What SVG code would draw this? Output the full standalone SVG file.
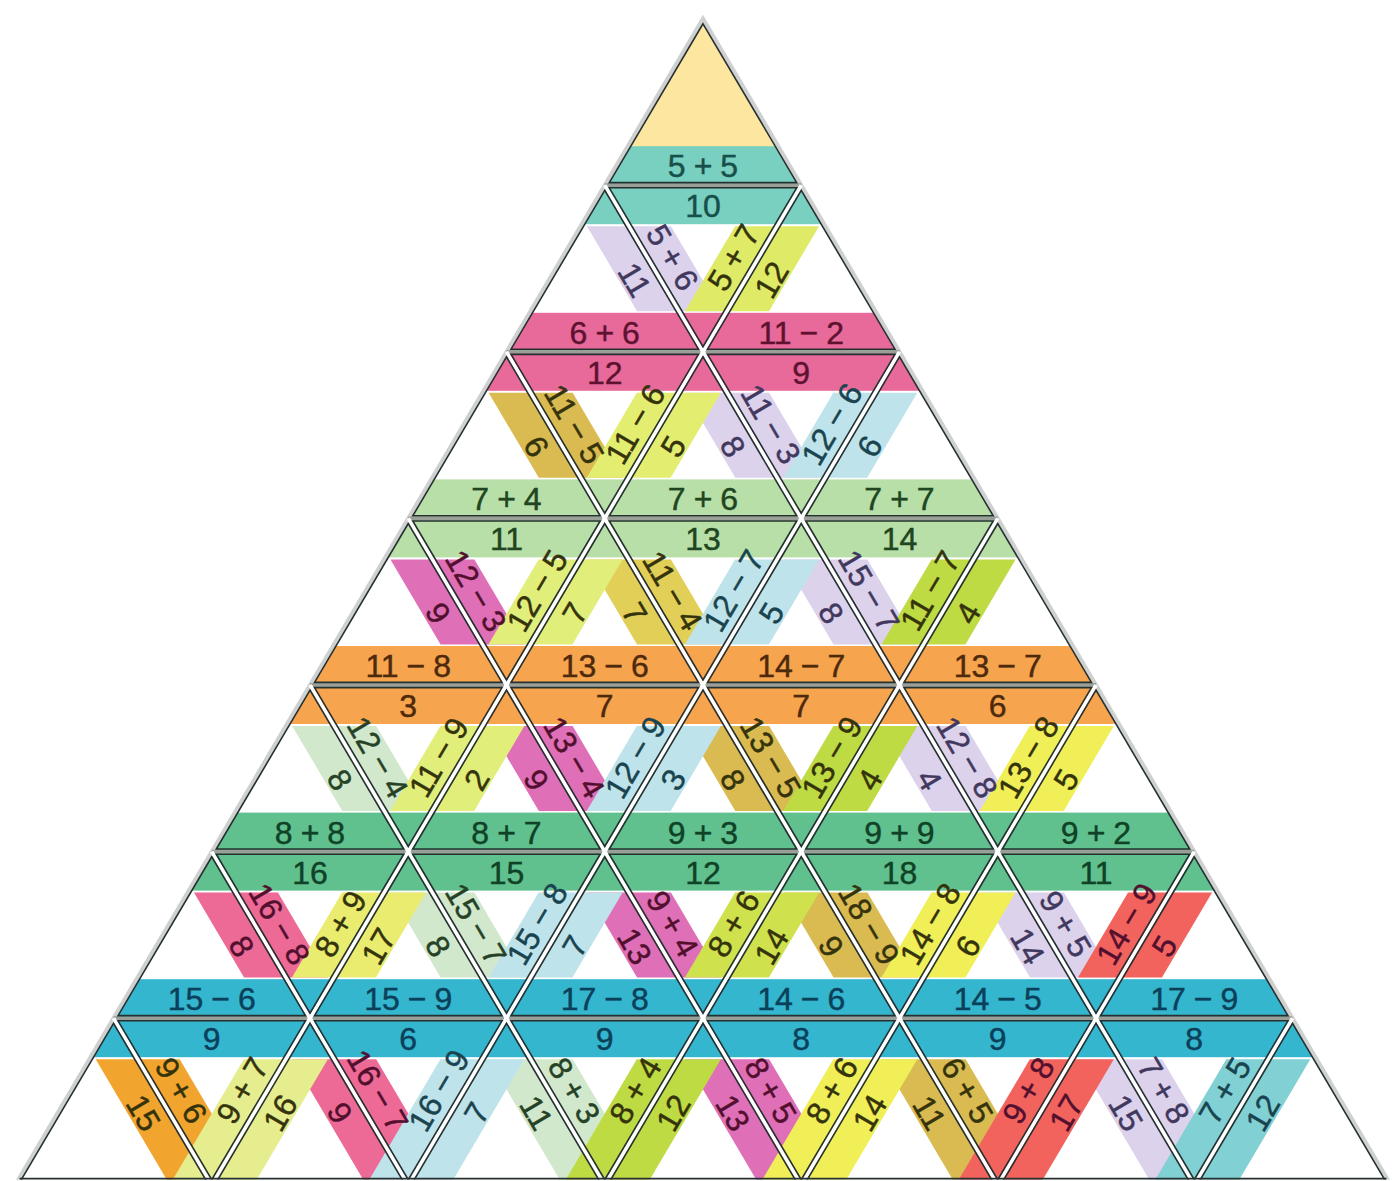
<svg xmlns="http://www.w3.org/2000/svg" width="1392" height="1181" viewBox="0 0 1392 1181">
<style>
.o{fill:none;stroke:#263030;stroke-width:1.6}
.gd{stroke:#ffffff;stroke-width:3.8}
.gh{stroke:#9a9f98;stroke-width:3.8}
text{font-family:"Liberation Sans",Arial,sans-serif;font-size:32px;text-anchor:middle;stroke-width:0.45px}
.lav{fill:#dcd2ec}.olv{fill:#d9bb52}.mus{fill:#e2cf58}.mag{fill:#df70b8}.pgr{fill:#d2e8cc}.ros{fill:#ed6a97}.org{fill:#f2a52e}
.ylg{fill:#dfea66}.yel{fill:#e3ed70}.lbl{fill:#bfe3ea}.ylm{fill:#e2ee7a}.lim{fill:#bedb44}.yel2{fill:#f0ef58}.yel3{fill:#e9ec6e}
.lim2{fill:#cfe24e}.cor{fill:#f2635d}.pyg{fill:#e5ed8e}.tea{fill:#80d0d4}
.h1{fill:#79cfc0}.h2{fill:#e86a9b}.h3{fill:#b8dfa8}.h4{fill:#f7a44e}.h5{fill:#60c18f}.h6{fill:#35b6cf}
.k1{fill:#174f4a;stroke:#174f4a}.k2{fill:#5e1230;stroke:#5e1230}.k3{fill:#1f4620;stroke:#1f4620}.k4{fill:#4e2a0c;stroke:#4e2a0c}.k5{fill:#0f4226;stroke:#0f4226}.k6{fill:#0b405a;stroke:#0b405a}
.tl{fill:#41385e;stroke:#41385e}.ty{fill:#34330c;stroke:#34330c}.tb{fill:#19444f;stroke:#19444f}.tp{fill:#52102e;stroke:#52102e}.tg{fill:#264226;stroke:#264226}
</style>
<defs>
<clipPath id="clip"><polygon points="703,23.72 15.2,1190 1390.8,1190"/></clipPath>
<polygon id="up" points="0,5.12 -93.7,164 93.7,164"/>
<polygon id="dn" points="-93.7,2.6 93.7,2.6 0,161.48"/>
<polygon id="bs" points="-17.82,41 66.18,41 116.31,126 32.31,126"/>
<polygon id="bs6" points="-17.82,41 66.18,41 142.26,170 58.26,170"/>
<polygon id="fs" points="17.82,41 -66.18,41 -116.31,126 -32.31,126"/>
<polygon id="fs6" points="17.82,41 -66.18,41 -142.26,170 -58.26,170"/>
</defs>
<rect width="1392" height="1181" fill="#ffffff"/>
<polygon points="703,18.6 15.25,1184.8 1390.75,1184.8" fill="#ffffff" stroke="#cfd0d0" stroke-width="4"/>
<g id="bands" clip-path="url(#clip)">
<polygon points="703,18.6 604.75,185.2 801.25,185.2" fill="#fde6a0"/>
<use href="#bs" class="lav" x="604.75" y="185.2"/>
<use href="#bs" class="olv" x="506.5" y="351.8"/>
<use href="#bs" class="lav" x="703" y="351.8"/>
<use href="#bs" class="mag" x="408.25" y="518.4"/>
<use href="#bs" class="mus" x="604.75" y="518.4"/>
<use href="#bs" class="lav" x="801.25" y="518.4"/>
<use href="#bs" class="pgr" x="310" y="685"/>
<use href="#bs" class="mag" x="506.5" y="685"/>
<use href="#bs" class="olv" x="703" y="685"/>
<use href="#bs" class="lav" x="899.5" y="685"/>
<use href="#bs" class="ros" x="211.75" y="851.6"/>
<use href="#bs" class="pgr" x="408.25" y="851.6"/>
<use href="#bs" class="mag" x="604.75" y="851.6"/>
<use href="#bs" class="olv" x="801.25" y="851.6"/>
<use href="#bs" class="lav" x="997.75" y="851.6"/>
<use href="#bs6" class="org" x="113.5" y="1018.2"/>
<use href="#bs6" class="ros" x="310" y="1018.2"/>
<use href="#bs6" class="pgr" x="506.5" y="1018.2"/>
<use href="#bs6" class="mag" x="703" y="1018.2"/>
<use href="#bs6" class="olv" x="899.5" y="1018.2"/>
<use href="#bs6" class="lav" x="1096" y="1018.2"/>
<use href="#fs" class="ylg" x="801.25" y="185.2"/>
<use href="#fs" class="yel" x="703" y="351.8"/>
<use href="#fs" class="lbl" x="899.5" y="351.8"/>
<use href="#fs" class="ylm" x="604.75" y="518.4"/>
<use href="#fs" class="lbl" x="801.25" y="518.4"/>
<use href="#fs" class="lim" x="997.75" y="518.4"/>
<use href="#fs" class="ylm" x="506.5" y="685"/>
<use href="#fs" class="lbl" x="703" y="685"/>
<use href="#fs" class="lim" x="899.5" y="685"/>
<use href="#fs" class="yel2" x="1096" y="685"/>
<use href="#fs" class="yel3" x="408.25" y="851.6"/>
<use href="#fs" class="lbl" x="604.75" y="851.6"/>
<use href="#fs" class="lim2" x="801.25" y="851.6"/>
<use href="#fs" class="yel2" x="997.75" y="851.6"/>
<use href="#fs" class="cor" x="1194.25" y="851.6"/>
<use href="#fs6" class="pyg" x="310" y="1018.2"/>
<use href="#fs6" class="lbl" x="506.5" y="1018.2"/>
<use href="#fs6" class="lim" x="703" y="1018.2"/>
<use href="#fs6" class="yel2" x="899.5" y="1018.2"/>
<use href="#fs6" class="cor" x="1096" y="1018.2"/>
<use href="#fs6" class="tea" x="1292.5" y="1018.2"/>
<rect class="h1" x="0" y="146.2" width="1392" height="78"/>
<rect class="h2" x="0" y="312.8" width="1392" height="78"/>
<rect class="h3" x="0" y="479.4" width="1392" height="78"/>
<rect class="h4" x="0" y="646" width="1392" height="78"/>
<rect class="h5" x="0" y="812.6" width="1392" height="78"/>
<rect class="h6" x="0" y="979.2" width="1392" height="78"/>
</g>
<g id="connectors">
<line class="gh" x1="604.75" y1="185.2" x2="801.25" y2="185.2"/>
<line class="gh" x1="506.5" y1="351.8" x2="899.5" y2="351.8"/>
<line class="gh" x1="408.25" y1="518.4" x2="997.75" y2="518.4"/>
<line class="gh" x1="310" y1="685" x2="1096" y2="685"/>
<line class="gh" x1="211.75" y1="851.6" x2="1194.25" y2="851.6"/>
<line class="gh" x1="113.5" y1="1018.2" x2="1292.5" y2="1018.2"/>
<line class="gd" x1="604.75" y1="185.2" x2="1194.25" y2="1184.8"/>
<line class="gd" x1="506.5" y1="351.8" x2="997.75" y2="1184.8"/>
<line class="gd" x1="408.25" y1="518.4" x2="801.25" y2="1184.8"/>
<line class="gd" x1="310" y1="685" x2="604.75" y2="1184.8"/>
<line class="gd" x1="211.75" y1="851.6" x2="408.25" y2="1184.8"/>
<line class="gd" x1="113.5" y1="1018.2" x2="211.75" y2="1184.8"/>
<line class="gd" x1="801.25" y1="185.2" x2="211.75" y2="1184.8"/>
<line class="gd" x1="899.5" y1="351.8" x2="408.25" y2="1184.8"/>
<line class="gd" x1="997.75" y1="518.4" x2="604.75" y2="1184.8"/>
<line class="gd" x1="1096" y1="685" x2="801.25" y2="1184.8"/>
<line class="gd" x1="1194.25" y1="851.6" x2="997.75" y2="1184.8"/>
<line class="gd" x1="1292.5" y1="1018.2" x2="1194.25" y2="1184.8"/>
</g>
<g id="p0-0"><use href="#up" class="o" x="703" y="18.6"/><text class="k1" x="703" y="177.2">5<tspan dx="8">+</tspan><tspan dx="8">5</tspan></text></g>
<g id="p1-u0"><use href="#up" class="o" x="604.75" y="185.2"/><text class="k2" x="604.75" y="343.8">6<tspan dx="8">+</tspan><tspan dx="8">6</tspan></text><text class="tl" transform="translate(634.91,279.68) rotate(59.47)" y="11.5">11</text></g>
<g id="p1-d0"><use href="#dn" class="o" x="703" y="185.2"/><text class="k1" x="703" y="217.2">10</text><text class="tl" transform="translate(672.84,257.32) rotate(59.47)" y="11.5">5<tspan dx="8">+</tspan><tspan dx="8">6</tspan></text><text class="ty" transform="translate(733.16,257.32) rotate(-59.47)" y="11.5">5<tspan dx="8">+</tspan><tspan dx="8">7</tspan></text></g>
<g id="p1-u1"><use href="#up" class="o" x="801.25" y="185.2"/><text class="k2" x="801.25" y="343.8">11<tspan dx="8">−</tspan><tspan dx="8">2</tspan></text><text class="ty" transform="translate(771.09,279.68) rotate(-59.47)" y="11.5">12</text></g>
<g id="p2-u0"><use href="#up" class="o" x="506.5" y="351.8"/><text class="k3" x="506.5" y="510.4">7<tspan dx="8">+</tspan><tspan dx="8">4</tspan></text><text class="ty" transform="translate(536.66,446.28) rotate(59.47)" y="11.5">6</text></g>
<g id="p2-d0"><use href="#dn" class="o" x="604.75" y="351.8"/><text class="k2" x="604.75" y="383.8">12</text><text class="ty" transform="translate(574.59,423.92) rotate(59.47)" y="11.5">11<tspan dx="8">−</tspan><tspan dx="8">5</tspan></text><text class="ty" transform="translate(634.91,423.92) rotate(-59.47)" y="11.5">11<tspan dx="8">−</tspan><tspan dx="8">6</tspan></text></g>
<g id="p2-u1"><use href="#up" class="o" x="703" y="351.8"/><text class="k3" x="703" y="510.4">7<tspan dx="8">+</tspan><tspan dx="8">6</tspan></text><text class="ty" transform="translate(672.84,446.28) rotate(-59.47)" y="11.5">5</text><text class="tl" transform="translate(733.16,446.28) rotate(59.47)" y="11.5">8</text></g>
<g id="p2-d1"><use href="#dn" class="o" x="801.25" y="351.8"/><text class="k2" x="801.25" y="383.8">9</text><text class="tl" transform="translate(771.09,423.92) rotate(59.47)" y="11.5">11<tspan dx="8">−</tspan><tspan dx="8">3</tspan></text><text class="tb" transform="translate(831.41,423.92) rotate(-59.47)" y="11.5">12<tspan dx="8">−</tspan><tspan dx="8">6</tspan></text></g>
<g id="p2-u2"><use href="#up" class="o" x="899.5" y="351.8"/><text class="k3" x="899.5" y="510.4">7<tspan dx="8">+</tspan><tspan dx="8">7</tspan></text><text class="tb" transform="translate(869.34,446.28) rotate(-59.47)" y="11.5">6</text></g>
<g id="p3-u0"><use href="#up" class="o" x="408.25" y="518.4"/><text class="k4" x="408.25" y="677">11<tspan dx="8">−</tspan><tspan dx="8">8</tspan></text><text class="tp" transform="translate(438.41,612.88) rotate(59.47)" y="11.5">9</text></g>
<g id="p3-d0"><use href="#dn" class="o" x="506.5" y="518.4"/><text class="k3" x="506.5" y="550.4">11</text><text class="tp" transform="translate(476.34,590.52) rotate(59.47)" y="11.5">12<tspan dx="8">−</tspan><tspan dx="8">3</tspan></text><text class="ty" transform="translate(536.66,590.52) rotate(-59.47)" y="11.5">12<tspan dx="8">−</tspan><tspan dx="8">5</tspan></text></g>
<g id="p3-u1"><use href="#up" class="o" x="604.75" y="518.4"/><text class="k4" x="604.75" y="677">13<tspan dx="8">−</tspan><tspan dx="8">6</tspan></text><text class="ty" transform="translate(574.59,612.88) rotate(-59.47)" y="11.5">7</text><text class="ty" transform="translate(634.91,612.88) rotate(59.47)" y="11.5">7</text></g>
<g id="p3-d1"><use href="#dn" class="o" x="703" y="518.4"/><text class="k3" x="703" y="550.4">13</text><text class="ty" transform="translate(672.84,590.52) rotate(59.47)" y="11.5">11<tspan dx="8">−</tspan><tspan dx="8">4</tspan></text><text class="tb" transform="translate(733.16,590.52) rotate(-59.47)" y="11.5">12<tspan dx="8">−</tspan><tspan dx="8">7</tspan></text></g>
<g id="p3-u2"><use href="#up" class="o" x="801.25" y="518.4"/><text class="k4" x="801.25" y="677">14<tspan dx="8">−</tspan><tspan dx="8">7</tspan></text><text class="tb" transform="translate(771.09,612.88) rotate(-59.47)" y="11.5">5</text><text class="tl" transform="translate(831.41,612.88) rotate(59.47)" y="11.5">8</text></g>
<g id="p3-d2"><use href="#dn" class="o" x="899.5" y="518.4"/><text class="k3" x="899.5" y="550.4">14</text><text class="tl" transform="translate(869.34,590.52) rotate(59.47)" y="11.5">15<tspan dx="8">−</tspan><tspan dx="8">7</tspan></text><text class="ty" transform="translate(929.66,590.52) rotate(-59.47)" y="11.5">11<tspan dx="8">−</tspan><tspan dx="8">7</tspan></text></g>
<g id="p3-u3"><use href="#up" class="o" x="997.75" y="518.4"/><text class="k4" x="997.75" y="677">13<tspan dx="8">−</tspan><tspan dx="8">7</tspan></text><text class="ty" transform="translate(967.59,612.88) rotate(-59.47)" y="11.5">4</text></g>
<g id="p4-u0"><use href="#up" class="o" x="310" y="685"/><text class="k5" x="310" y="843.6">8<tspan dx="8">+</tspan><tspan dx="8">8</tspan></text><text class="tg" transform="translate(340.16,779.48) rotate(59.47)" y="11.5">8</text></g>
<g id="p4-d0"><use href="#dn" class="o" x="408.25" y="685"/><text class="k4" x="408.25" y="717">3</text><text class="tg" transform="translate(378.09,757.12) rotate(59.47)" y="11.5">12<tspan dx="8">−</tspan><tspan dx="8">4</tspan></text><text class="ty" transform="translate(438.41,757.12) rotate(-59.47)" y="11.5">11<tspan dx="8">−</tspan><tspan dx="8">9</tspan></text></g>
<g id="p4-u1"><use href="#up" class="o" x="506.5" y="685"/><text class="k5" x="506.5" y="843.6">8<tspan dx="8">+</tspan><tspan dx="8">7</tspan></text><text class="ty" transform="translate(476.34,779.48) rotate(-59.47)" y="11.5">2</text><text class="tp" transform="translate(536.66,779.48) rotate(59.47)" y="11.5">9</text></g>
<g id="p4-d1"><use href="#dn" class="o" x="604.75" y="685"/><text class="k4" x="604.75" y="717">7</text><text class="tp" transform="translate(574.59,757.12) rotate(59.47)" y="11.5">13<tspan dx="8">−</tspan><tspan dx="8">4</tspan></text><text class="tb" transform="translate(634.91,757.12) rotate(-59.47)" y="11.5">12<tspan dx="8">−</tspan><tspan dx="8">9</tspan></text></g>
<g id="p4-u2"><use href="#up" class="o" x="703" y="685"/><text class="k5" x="703" y="843.6">9<tspan dx="8">+</tspan><tspan dx="8">3</tspan></text><text class="tb" transform="translate(672.84,779.48) rotate(-59.47)" y="11.5">3</text><text class="ty" transform="translate(733.16,779.48) rotate(59.47)" y="11.5">8</text></g>
<g id="p4-d2"><use href="#dn" class="o" x="801.25" y="685"/><text class="k4" x="801.25" y="717">7</text><text class="ty" transform="translate(771.09,757.12) rotate(59.47)" y="11.5">13<tspan dx="8">−</tspan><tspan dx="8">5</tspan></text><text class="ty" transform="translate(831.41,757.12) rotate(-59.47)" y="11.5">13<tspan dx="8">−</tspan><tspan dx="8">9</tspan></text></g>
<g id="p4-u3"><use href="#up" class="o" x="899.5" y="685"/><text class="k5" x="899.5" y="843.6">9<tspan dx="8">+</tspan><tspan dx="8">9</tspan></text><text class="ty" transform="translate(869.34,779.48) rotate(-59.47)" y="11.5">4</text><text class="tl" transform="translate(929.66,779.48) rotate(59.47)" y="11.5">4</text></g>
<g id="p4-d3"><use href="#dn" class="o" x="997.75" y="685"/><text class="k4" x="997.75" y="717">6</text><text class="tl" transform="translate(967.59,757.12) rotate(59.47)" y="11.5">12<tspan dx="8">−</tspan><tspan dx="8">8</tspan></text><text class="ty" transform="translate(1027.91,757.12) rotate(-59.47)" y="11.5">13<tspan dx="8">−</tspan><tspan dx="8">8</tspan></text></g>
<g id="p4-u4"><use href="#up" class="o" x="1096" y="685"/><text class="k5" x="1096" y="843.6">9<tspan dx="8">+</tspan><tspan dx="8">2</tspan></text><text class="ty" transform="translate(1065.84,779.48) rotate(-59.47)" y="11.5">5</text></g>
<g id="p5-u0"><use href="#up" class="o" x="211.75" y="851.6"/><text class="k6" x="211.75" y="1010.2">15<tspan dx="8">−</tspan><tspan dx="8">6</tspan></text><text class="tp" transform="translate(241.91,946.08) rotate(59.47)" y="11.5">8</text></g>
<g id="p5-d0"><use href="#dn" class="o" x="310" y="851.6"/><text class="k5" x="310" y="883.6">16</text><text class="tp" transform="translate(279.84,923.72) rotate(59.47)" y="11.5">16<tspan dx="8">−</tspan><tspan dx="8">8</tspan></text><text class="ty" transform="translate(340.16,923.72) rotate(-59.47)" y="11.5">8<tspan dx="8">+</tspan><tspan dx="8">9</tspan></text></g>
<g id="p5-u1"><use href="#up" class="o" x="408.25" y="851.6"/><text class="k6" x="408.25" y="1010.2">15<tspan dx="8">−</tspan><tspan dx="8">9</tspan></text><text class="ty" transform="translate(378.09,946.08) rotate(-59.47)" y="11.5">17</text><text class="tg" transform="translate(438.41,946.08) rotate(59.47)" y="11.5">8</text></g>
<g id="p5-d1"><use href="#dn" class="o" x="506.5" y="851.6"/><text class="k5" x="506.5" y="883.6">15</text><text class="tg" transform="translate(476.34,923.72) rotate(59.47)" y="11.5">15<tspan dx="8">−</tspan><tspan dx="8">7</tspan></text><text class="tb" transform="translate(536.66,923.72) rotate(-59.47)" y="11.5">15<tspan dx="8">−</tspan><tspan dx="8">8</tspan></text></g>
<g id="p5-u2"><use href="#up" class="o" x="604.75" y="851.6"/><text class="k6" x="604.75" y="1010.2">17<tspan dx="8">−</tspan><tspan dx="8">8</tspan></text><text class="tb" transform="translate(574.59,946.08) rotate(-59.47)" y="11.5">7</text><text class="tp" transform="translate(634.91,946.08) rotate(59.47)" y="11.5">13</text></g>
<g id="p5-d2"><use href="#dn" class="o" x="703" y="851.6"/><text class="k5" x="703" y="883.6">12</text><text class="tp" transform="translate(672.84,923.72) rotate(59.47)" y="11.5">9<tspan dx="8">+</tspan><tspan dx="8">4</tspan></text><text class="ty" transform="translate(733.16,923.72) rotate(-59.47)" y="11.5">8<tspan dx="8">+</tspan><tspan dx="8">6</tspan></text></g>
<g id="p5-u3"><use href="#up" class="o" x="801.25" y="851.6"/><text class="k6" x="801.25" y="1010.2">14<tspan dx="8">−</tspan><tspan dx="8">6</tspan></text><text class="ty" transform="translate(771.09,946.08) rotate(-59.47)" y="11.5">14</text><text class="ty" transform="translate(831.41,946.08) rotate(59.47)" y="11.5">9</text></g>
<g id="p5-d3"><use href="#dn" class="o" x="899.5" y="851.6"/><text class="k5" x="899.5" y="883.6">18</text><text class="ty" transform="translate(869.34,923.72) rotate(59.47)" y="11.5">18<tspan dx="8">−</tspan><tspan dx="8">9</tspan></text><text class="ty" transform="translate(929.66,923.72) rotate(-59.47)" y="11.5">14<tspan dx="8">−</tspan><tspan dx="8">8</tspan></text></g>
<g id="p5-u4"><use href="#up" class="o" x="997.75" y="851.6"/><text class="k6" x="997.75" y="1010.2">14<tspan dx="8">−</tspan><tspan dx="8">5</tspan></text><text class="ty" transform="translate(967.59,946.08) rotate(-59.47)" y="11.5">6</text><text class="tl" transform="translate(1027.91,946.08) rotate(59.47)" y="11.5">14</text></g>
<g id="p5-d4"><use href="#dn" class="o" x="1096" y="851.6"/><text class="k5" x="1096" y="883.6">11</text><text class="tl" transform="translate(1065.84,923.72) rotate(59.47)" y="11.5">9<tspan dx="8">+</tspan><tspan dx="8">5</tspan></text><text class="tp" transform="translate(1126.16,923.72) rotate(-59.47)" y="11.5">14<tspan dx="8">−</tspan><tspan dx="8">9</tspan></text></g>
<g id="p5-u5"><use href="#up" class="o" x="1194.25" y="851.6"/><text class="k6" x="1194.25" y="1010.2">17<tspan dx="8">−</tspan><tspan dx="8">9</tspan></text><text class="tp" transform="translate(1164.09,946.08) rotate(-59.47)" y="11.5">5</text></g>
<g id="p6-u0"><use href="#up" class="o" x="113.5" y="1018.2"/><text class="ty" transform="translate(143.66,1112.68) rotate(59.47)" y="11.5">15</text></g>
<g id="p6-d0"><use href="#dn" class="o" x="211.75" y="1018.2"/><text class="k6" x="211.75" y="1050.2">9</text><text class="ty" transform="translate(181.59,1090.32) rotate(59.47)" y="11.5">9<tspan dx="8">+</tspan><tspan dx="8">6</tspan></text><text class="ty" transform="translate(241.91,1090.32) rotate(-59.47)" y="11.5">9<tspan dx="8">+</tspan><tspan dx="8">7</tspan></text></g>
<g id="p6-u1"><use href="#up" class="o" x="310" y="1018.2"/><text class="ty" transform="translate(279.84,1112.68) rotate(-59.47)" y="11.5">16</text><text class="tp" transform="translate(340.16,1112.68) rotate(59.47)" y="11.5">9</text></g>
<g id="p6-d1"><use href="#dn" class="o" x="408.25" y="1018.2"/><text class="k6" x="408.25" y="1050.2">6</text><text class="tp" transform="translate(378.09,1090.32) rotate(59.47)" y="11.5">16<tspan dx="8">−</tspan><tspan dx="8">7</tspan></text><text class="tb" transform="translate(438.41,1090.32) rotate(-59.47)" y="11.5">16<tspan dx="8">−</tspan><tspan dx="8">9</tspan></text></g>
<g id="p6-u2"><use href="#up" class="o" x="506.5" y="1018.2"/><text class="tb" transform="translate(476.34,1112.68) rotate(-59.47)" y="11.5">7</text><text class="tg" transform="translate(536.66,1112.68) rotate(59.47)" y="11.5">11</text></g>
<g id="p6-d2"><use href="#dn" class="o" x="604.75" y="1018.2"/><text class="k6" x="604.75" y="1050.2">9</text><text class="tg" transform="translate(574.59,1090.32) rotate(59.47)" y="11.5">8<tspan dx="8">+</tspan><tspan dx="8">3</tspan></text><text class="ty" transform="translate(634.91,1090.32) rotate(-59.47)" y="11.5">8<tspan dx="8">+</tspan><tspan dx="8">4</tspan></text></g>
<g id="p6-u3"><use href="#up" class="o" x="703" y="1018.2"/><text class="ty" transform="translate(672.84,1112.68) rotate(-59.47)" y="11.5">12</text><text class="tp" transform="translate(733.16,1112.68) rotate(59.47)" y="11.5">13</text></g>
<g id="p6-d3"><use href="#dn" class="o" x="801.25" y="1018.2"/><text class="k6" x="801.25" y="1050.2">8</text><text class="tp" transform="translate(771.09,1090.32) rotate(59.47)" y="11.5">8<tspan dx="8">+</tspan><tspan dx="8">5</tspan></text><text class="ty" transform="translate(831.41,1090.32) rotate(-59.47)" y="11.5">8<tspan dx="8">+</tspan><tspan dx="8">6</tspan></text></g>
<g id="p6-u4"><use href="#up" class="o" x="899.5" y="1018.2"/><text class="ty" transform="translate(869.34,1112.68) rotate(-59.47)" y="11.5">14</text><text class="ty" transform="translate(929.66,1112.68) rotate(59.47)" y="11.5">11</text></g>
<g id="p6-d4"><use href="#dn" class="o" x="997.75" y="1018.2"/><text class="k6" x="997.75" y="1050.2">9</text><text class="ty" transform="translate(967.59,1090.32) rotate(59.47)" y="11.5">6<tspan dx="8">+</tspan><tspan dx="8">5</tspan></text><text class="tp" transform="translate(1027.91,1090.32) rotate(-59.47)" y="11.5">9<tspan dx="8">+</tspan><tspan dx="8">8</tspan></text></g>
<g id="p6-u5"><use href="#up" class="o" x="1096" y="1018.2"/><text class="tp" transform="translate(1065.84,1112.68) rotate(-59.47)" y="11.5">17</text><text class="tl" transform="translate(1126.16,1112.68) rotate(59.47)" y="11.5">15</text></g>
<g id="p6-d5"><use href="#dn" class="o" x="1194.25" y="1018.2"/><text class="k6" x="1194.25" y="1050.2">8</text><text class="tl" transform="translate(1164.09,1090.32) rotate(59.47)" y="11.5">7<tspan dx="8">+</tspan><tspan dx="8">8</tspan></text><text class="tb" transform="translate(1224.41,1090.32) rotate(-59.47)" y="11.5">7<tspan dx="8">+</tspan><tspan dx="8">5</tspan></text></g>
<g id="p6-u6"><use href="#up" class="o" x="1292.5" y="1018.2"/><text class="tb" transform="translate(1262.34,1112.68) rotate(-59.47)" y="11.5">12</text></g>
<rect x="0" y="1179.6" width="1392" height="1.4" fill="#ffffff"/>
<line x1="19.5" y1="1178.6" x2="1386.5" y2="1178.6" stroke="#263030" stroke-width="1.6"/>
</svg>
